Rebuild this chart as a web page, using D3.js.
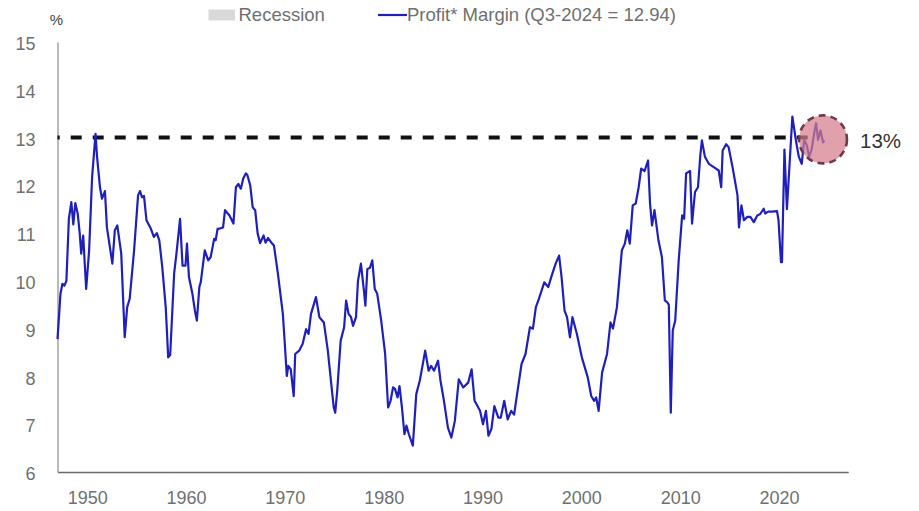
<!DOCTYPE html>
<html>
<head>
<meta charset="utf-8">
<script src="https://cdn.jsdelivr.net/npm/d3@7"></script>
<style>
  body { margin: 0; background: #fff; }
  text { font-family: "Liberation Sans", Arial, sans-serif; }
</style>
</head>
<body>
<div id="chart"></div>
<script>
// quarterly-ish readings of the profit margin (%), decimal years
const quarters = [
  1947.0, 1947.3, 1947.5, 1947.7, 1947.9, 1948.15, 1948.4, 1948.6, 1948.8, 1949.05,
  1949.25, 1949.4, 1949.6, 1949.9, 1950.2, 1950.5, 1950.85, 1951.0, 1951.3, 1951.5,
  1951.8, 1952.0, 1952.3, 1952.55, 1952.8, 1953.05, 1953.45, 1953.8, 1954.05, 1954.3,
  1954.75, 1955.15, 1955.35, 1955.55, 1955.75, 1956.0, 1956.45, 1956.75, 1957.05, 1957.3,
  1957.6, 1957.95, 1958.2, 1958.4, 1958.8, 1959.05, 1959.4, 1959.65, 1959.95, 1960.1,
  1960.3, 1960.65, 1960.9, 1961.1, 1961.35, 1961.5, 1961.9, 1962.25, 1962.5, 1962.85,
  1963.0, 1963.2, 1963.5, 1963.75, 1963.95, 1964.4, 1964.8, 1965.05, 1965.3, 1965.55,
  1965.8, 1966.05, 1966.2, 1966.5, 1966.75, 1967.0, 1967.25, 1967.5, 1967.85, 1968.05,
  1968.3, 1968.6, 1968.9, 1969.3, 1969.8, 1970.0, 1970.2, 1970.35, 1970.6, 1970.9,
  1971.05, 1971.45, 1971.8, 1972.15, 1972.4, 1972.65, 1973.15, 1973.5, 1973.95, 1974.35,
  1974.7, 1974.95, 1975.1, 1975.3, 1975.65, 1976.0, 1976.2, 1976.45, 1976.7, 1976.9,
  1977.2, 1977.4, 1977.7, 1978.0, 1978.15, 1978.35, 1978.6, 1978.85, 1979.1, 1979.35,
  1979.75, 1980.15, 1980.45, 1980.7, 1980.95, 1981.15, 1981.4, 1981.6, 1981.85, 1982.1,
  1982.3, 1982.55, 1982.95, 1983.3, 1983.65, 1983.9, 1984.2, 1984.55, 1984.8, 1985.1,
  1985.5, 1985.75, 1986.1, 1986.5, 1986.85, 1987.2, 1987.6, 1988.05, 1988.55, 1988.9,
  1989.2, 1989.75, 1990.05, 1990.35, 1990.6, 1990.9, 1991.2, 1991.6, 1991.85, 1992.2,
  1992.55, 1992.9, 1993.2, 1993.45, 1993.95, 1994.35, 1994.8, 1995.1, 1995.4, 1995.65,
  1996.25, 1996.65, 1997.0, 1997.4, 1997.75, 1998.0, 1998.3, 1998.55, 1998.85, 1999.1,
  1999.55, 2000.05, 2000.65, 2001.0, 2001.3, 2001.5, 2001.75, 2002.1, 2002.6, 2002.95,
  2003.2, 2003.6, 2004.1, 2004.4, 2004.65, 2004.9, 2005.2, 2005.5, 2005.8, 2006.05,
  2006.4, 2006.75, 2006.95, 2007.15, 2007.4, 2007.8, 2008.15, 2008.45, 2008.7, 2008.85,
  2009.05, 2009.25, 2009.5, 2009.85, 2010.2, 2010.4, 2010.6, 2011.0, 2011.2, 2011.5,
  2011.8, 2012.05, 2012.2, 2012.5, 2012.9, 2013.4, 2013.9, 2014.15, 2014.3, 2014.65,
  2014.9, 2015.3, 2015.8, 2015.95, 2016.2, 2016.45, 2016.8, 2017.1, 2017.45, 2017.8,
  2018.1, 2018.45, 2018.6, 2018.9, 2019.3, 2019.8, 2019.95, 2020.2, 2020.3, 2020.55,
  2020.8, 2021.35, 2021.7, 2022.0, 2022.3, 2022.55, 2022.8, 2023.05, 2023.3, 2023.55,
  2023.75, 2023.95, 2024.2, 2024.45, 2024.6
];
const margin = [
  8.78, 9.73, 9.94, 9.9, 10.0, 11.3, 11.65, 11.18, 11.63, 11.4,
  10.99, 10.57, 10.95, 9.83, 10.64, 12.17, 13.08, 12.6, 11.96, 11.72,
  11.88, 11.12, 10.71, 10.36, 11.06, 11.16, 10.57, 8.82, 9.45, 9.62,
  10.64, 11.79, 11.88, 11.75, 11.78, 11.27, 11.09, 10.92, 11.0, 10.85,
  10.29, 9.45, 8.4, 8.45, 10.15, 10.6, 11.3, 10.32, 10.32, 10.78,
  10.08, 9.73, 9.38, 9.17, 9.87, 9.98, 10.64, 10.43, 10.5, 10.88,
  10.85, 11.09, 11.1, 11.12, 11.48, 11.37, 11.2, 11.96, 12.03, 11.93,
  12.15, 12.25, 12.22, 12.0, 11.54, 11.48, 10.99, 10.79, 10.95, 10.8,
  10.9, 10.81, 10.74, 10.15, 9.31, 8.68, 8.01, 8.22, 8.15, 7.59,
  8.47, 8.54, 8.68, 8.99, 8.89, 9.31, 9.66, 9.24, 9.13, 8.54,
  7.84, 7.35, 7.24, 7.7, 8.75, 9.03, 9.59, 9.31, 9.24, 9.06,
  9.24, 10.0, 10.36, 9.8, 9.48, 10.25, 10.27, 10.43, 9.83, 9.73,
  9.17, 8.47, 7.35, 7.49, 7.77, 7.74, 7.56, 7.8, 7.35, 6.79,
  6.97, 6.79, 6.55, 7.63, 7.91, 8.19, 8.54, 8.12, 8.22, 8.12,
  8.33, 7.91, 7.49, 6.93, 6.72, 7.07, 7.94, 7.77, 7.87, 8.15,
  7.49, 7.28, 7.0, 7.28, 6.76, 6.9, 7.38, 7.14, 7.14, 7.49,
  7.1, 7.28, 7.2, 7.56, 8.26, 8.47, 9.03, 9.0, 9.45, 9.59,
  9.97, 9.87, 10.11, 10.36, 10.53, 10.08, 9.38, 9.24, 8.82, 9.24,
  8.89, 8.4, 7.98, 7.59, 7.49, 7.56, 7.28, 8.08, 8.47, 9.13,
  9.0, 9.45, 10.64, 10.78, 11.06, 10.78, 11.58, 11.62, 11.96, 12.35,
  12.3, 12.52, 11.62, 11.16, 11.48, 10.85, 10.5, 9.59, 9.55, 9.5,
  7.24, 8.96, 9.17, 10.43, 11.37, 11.3, 12.25, 12.3, 11.2, 11.86,
  11.96, 12.66, 12.94, 12.6, 12.45, 12.38, 12.31, 11.96, 12.73, 12.86,
  12.8, 12.38, 11.79, 11.12, 11.58, 11.27, 11.34, 11.34, 11.23, 11.37,
  11.4, 11.51, 11.41, 11.45, 11.45, 11.46, 11.27, 10.39, 10.39, 12.75,
  11.5, 13.44, 12.95, 12.6, 12.45, 12.95, 12.85, 12.6, 12.75, 13.08,
  13.3, 12.95, 13.15, 12.9, 12.94
];
const yearTicks = [1950, 1960, 1970, 1980, 1990, 2000, 2010, 2020];
const yTicks = [6, 7, 8, 9, 10, 11, 12, 13, 14, 15];
const threshold = 13;
const thresholdLabel = '13%';
const legendLabels = ['Recession', 'Profit* Margin (Q3-2024 = 12.94)'];

const width = 919, height = 511;

const svg = d3.select('#chart')
  .append('svg')
  .attr('width', width)
  .attr('height', height);

const x = d3.scaleLinear().domain([1947, 2027]).range([57.5, 848.2]);
const y = d3.scaleLinear().domain([6, 15]).range([472, 42]);

// axes
const xAxis = svg.append('g')
  .attr('transform', `translate(0,${y(6)})`)
  .call(d3.axisBottom(x).tickValues(yearTicks).tickFormat(d3.format('d')).tickSize(0).tickPadding(19));
xAxis.select('.domain').attr('stroke', '#6a6a6a').attr('stroke-width', 1.6);
xAxis.selectAll('text').attr('font-size', 18).attr('fill', '#707070');

const yAxis = svg.append('g')
  .attr('transform', `translate(${x(1947)},0)`)
  .call(d3.axisLeft(y).tickValues(yTicks).tickSize(0).tickPadding(22));
yAxis.select('.domain').attr('stroke', '#8a8a8a').attr('stroke-width', 1.2);
yAxis.selectAll('text').attr('font-size', 18).attr('fill', '#707070').attr('dy', '0.42em');

svg.append('text')
  .attr('x', x(1947) - 1)
  .attr('y', 25)
  .attr('text-anchor', 'middle')
  .attr('font-size', 15)
  .attr('fill', '#444')
  .text('%');

// 13% reference line
svg.append('line')
  .attr('x1', x(1947))
  .attr('x2', x(2023.6))
  .attr('y1', y(threshold))
  .attr('y2', y(threshold))
  .attr('stroke', '#111')
  .attr('stroke-width', 4)
  .attr('stroke-dasharray', '11,11')
  .attr('stroke-dashoffset', 8.8);

// profit margin line
const points = quarters.map((q, i) => [q, margin[i]]);
const line = d3.line().x(d => x(d[0])).y(d => y(d[1]));

svg.append('path')
  .datum(points)
  .attr('d', line)
  .attr('fill', 'none')
  .attr('stroke', '#1f1fbb')
  .attr('stroke-width', 2.2)
  .attr('stroke-linejoin', 'round');

// highlight circle on the latest reading
const last = points[points.length - 1];
svg.append('circle')
  .attr('cx', x(last[0]) - 1.5)
  .attr('cy', y(last[1]) - 1)
  .attr('r', 24)
  .attr('fill', '#d47d8c')
  .attr('fill-opacity', 0.72)
  .attr('stroke', '#6e3a46')
  .attr('stroke-width', 2.6)
  .attr('stroke-dasharray', '7,5');

svg.append('text')
  .attr('x', 860)
  .attr('y', y(threshold) + 10.5)
  .attr('font-size', 20.5)
  .attr('fill', '#333')
  .text(thresholdLabel);

// legend
const legend = svg.append('g');
legend.append('rect')
  .attr('x', 208.5).attr('y', 9.5)
  .attr('width', 26.5).attr('height', 11)
  .attr('fill', '#d9d9d9');
legend.append('text')
  .attr('x', 238.5).attr('y', 20.7)
  .attr('font-size', 18.5)
  .attr('fill', '#6f6f6f')
  .text(legendLabels[0]);
legend.append('line')
  .attr('x1', 378).attr('x2', 407)
  .attr('y1', 15).attr('y2', 15)
  .attr('stroke', '#1f1fbb')
  .attr('stroke-width', 2.2);
legend.append('text')
  .attr('x', 407).attr('y', 20.7)
  .attr('font-size', 18.5)
  .attr('fill', '#6f6f6f')
  .text(legendLabels[1]);
</script>
</body>
</html>
